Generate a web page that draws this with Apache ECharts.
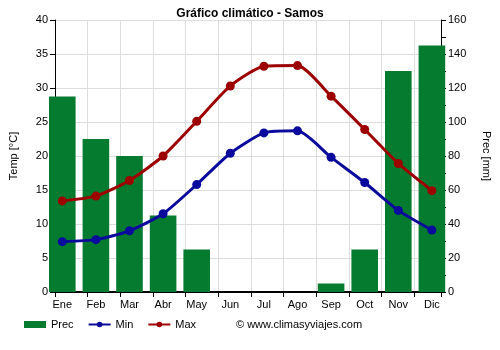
<!DOCTYPE html>
<html>
<head>
<meta charset="utf-8">
<script src="https://cdn.jsdelivr.net/npm/echarts@6/dist/echarts.min.js"></script>
<style>
  html, body { margin: 0; padding: 0; background: #fff; }
  #chart { width: 500px; height: 350px; }
</style>
</head>
<body>
<div id="chart"></div>
<script>
// Monthly climate data for Samos
const months = ['Ene', 'Feb', 'Mar', 'Abr', 'May', 'Jun', 'Jul', 'Ago', 'Sep', 'Oct', 'Nov', 'Dic'];
const precMm = [115, 90, 80, 45, 25, 0, 0, 0, 5, 25, 130, 145];
const tempMin = [7.4, 7.7, 9.0, 11.5, 15.8, 20.4, 23.4, 23.7, 19.8, 16.1, 12.0, 9.1];
const tempMax = [13.4, 14.1, 16.4, 20.0, 25.1, 30.3, 33.2, 33.3, 28.8, 23.9, 18.9, 14.9];

const FONT = 'Arial, "Liberation Sans", sans-serif';
const TEXT = '#000';
const GRID_LINE = '#dddddd';

// Grid 0 carries the visible frame (y axes, month ticks, grid lines);
// grid 1 carries the series and month labels, offset slightly left.
const PLOT_TOP = 20, PLOT_BOTTOM = 58;
const STEP_COUNT = 397 / 33.6;

const chart = echarts.init(document.getElementById('chart'), null, { renderer: 'canvas' });

chart.setOption({
  animation: false,
  backgroundColor: '#fff',
  textStyle: { fontFamily: FONT },
  title: {
    text: 'Gráfico climático - Samos',
    left: 'center',
    top: 3,
    textStyle: { fontFamily: FONT, fontSize: 12, fontWeight: 'bold', color: TEXT }
  },
  grid: [
    { left: 49, right: 54, top: PLOT_TOP, bottom: PLOT_BOTTOM },
    { left: 45.5, right: 51.3, top: PLOT_TOP, bottom: PLOT_BOTTOM }
  ],
  xAxis: [
    {
      gridIndex: 0,
      type: 'value',
      min: 0,
      max: STEP_COUNT,
      interval: 1,
      axisLine: { show: true, onZero: false, lineStyle: { color: '#000', width: 2 } },
      axisTick: { show: true, length: 5, lineStyle: { color: '#000' } },
      axisLabel: { show: false },
      splitLine: { show: true, lineStyle: { color: GRID_LINE, width: 1 } }
    },
    {
      gridIndex: 1,
      type: 'category',
      data: months,
      boundaryGap: true,
      axisLine: { show: false },
      axisTick: { show: false },
      splitLine: { show: false },
      axisLabel: { color: TEXT, fontSize: 11, fontFamily: FONT, margin: 7 }
    }
  ],
  yAxis: [
    {
      gridIndex: 0,
      type: 'value',
      min: 0, max: 40, interval: 5,
      name: 'Temp [°C]',
      nameLocation: 'middle',
      nameGap: 36,
      nameTextStyle: { color: TEXT, fontSize: 11, fontFamily: FONT },
      axisLine: { show: true, lineStyle: { color: '#000' } },
      axisTick: { show: true, length: 5, lineStyle: { color: '#000' } },
      axisLabel: { color: TEXT, fontSize: 11, fontFamily: FONT, margin: 7 },
      splitLine: { show: true, lineStyle: { color: GRID_LINE, width: 1 } }
    },
    {
      gridIndex: 0,
      type: 'value',
      position: 'right',
      min: 0, max: 160, interval: 20,
      name: 'Prec [mm]',
      nameLocation: 'middle',
      nameGap: 40,
      nameRotate: -90,
      nameTextStyle: { color: TEXT, fontSize: 11, fontFamily: FONT },
      axisLine: { show: true, lineStyle: { color: '#000' } },
      axisTick: { show: true, length: 5, lineStyle: { color: '#000' } },
      minorTick: { show: true, splitNumber: 2, length: 5, lineStyle: { color: '#000' } },
      axisLabel: { color: TEXT, fontSize: 11, fontFamily: FONT, margin: 7 },
      splitLine: { show: false }
    },
    { gridIndex: 1, type: 'value', min: 0, max: 40, show: false },
    { gridIndex: 1, type: 'value', min: 0, max: 160, show: false }
  ],
  legend: {
    left: 24,
    top: 319,
    padding: 0,
    itemWidth: 22,
    itemHeight: 7,
    itemGap: 14,
    textStyle: { color: TEXT, fontSize: 11, fontFamily: FONT },
    data: [
      { name: 'Prec', icon: 'rect' },
      { name: 'Min' },
      { name: 'Max' }
    ]
  },
  graphic: [
    {
      type: 'text',
      left: 236,
      top: 319,
      style: { text: '© www.climasyviajes.com', fill: TEXT, font: '11px ' + FONT }
    }
  ],
  series: [
    {
      name: 'Prec',
      type: 'bar',
      xAxisIndex: 1,
      yAxisIndex: 3,
      data: precMm,
      barWidth: 26.6,
      itemStyle: { color: '#047b2f' },
      z: 2
    },
    {
      name: 'Min',
      type: 'line',
      xAxisIndex: 1,
      yAxisIndex: 2,
      data: tempMin,
      smooth: 0.2,
      symbol: 'circle',
      symbolSize: 9,
      lineStyle: { color: '#0a0a9c', width: 3 },
      itemStyle: { color: '#0a0a9c' },
      z: 4
    },
    {
      name: 'Max',
      type: 'line',
      xAxisIndex: 1,
      yAxisIndex: 2,
      data: tempMax,
      smooth: 0.2,
      symbol: 'circle',
      symbolSize: 9,
      lineStyle: { color: '#9c0000', width: 3 },
      itemStyle: { color: '#9c0000' },
      z: 5
    }
  ]
});
</script>
</body>
</html>
